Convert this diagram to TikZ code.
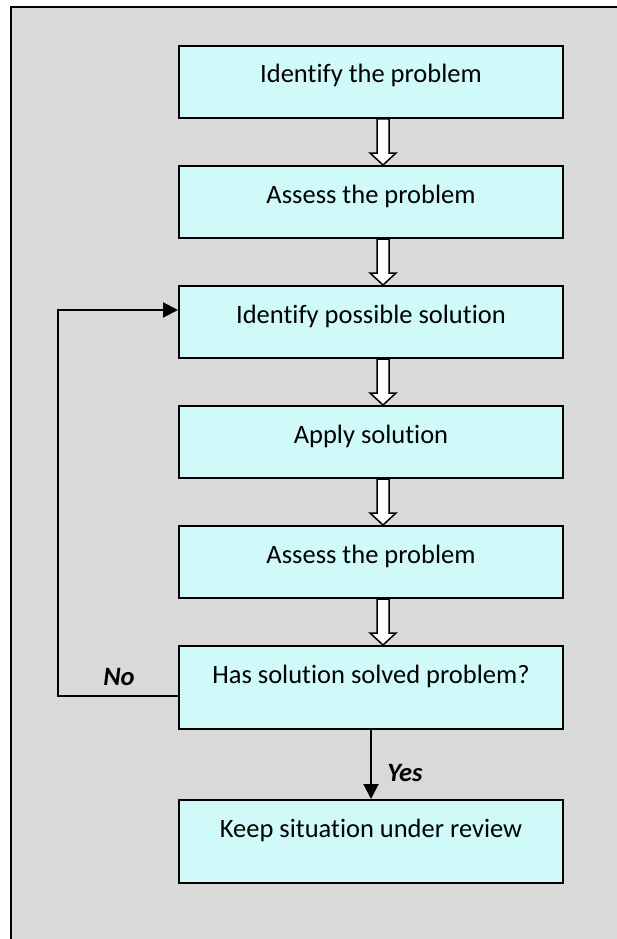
\documentclass[tikz,border=0pt]{standalone}
\usepackage{fontspec}
\setmainfont[Ligatures={NoCommon}]{Carlito}
\usetikzlibrary{calc,arrows.meta}
\definecolor{panelgray}{RGB}{217,217,217}
\definecolor{boxcyan}{RGB}{208,250,250}
\begin{document}
\begin{tikzpicture}[x=1pt,y=-1pt,
  step box/.style={draw,line width=2pt,fill=boxcyan,minimum width=384pt,
    inner sep=0pt,text height=37pt,text depth=35pt,anchor=north,
    font=\fontsize{26.5}{32}\selectfont},
  tall box/.style={step box,text depth=46pt},
  hollow arrow/.style={draw,line width=1.5pt,fill=white,line join=miter},
  flow line/.style={draw,line width=2pt,-{Triangle[length=15pt,width=15pt]}},
  answer/.style={font=\fontsize{26.5}{32}\selectfont\bfseries\itshape}]
  \useasboundingbox (0,0) rectangle (617,939);
  \draw[line width=2.5pt,fill=panelgray] (11,7) rectangle (640,960);

  \node[step box] (b1) at (371,45) {Identify the problem};
  \node[step box] (b2) at (371,165) {Assess the problem};
  \node[step box] (b3) at (371,285) {Identify possible solution};
  \node[step box] (b4) at (371,405) {Apply solution};
  \node[step box] (b5) at (371,525) {Assess the problem};
  \node[tall box] (b6) at (371,645) {Has solution solved problem?};
  \node[tall box] (b7) at (371,799) {Keep situation under review};

  % hollow arrows between the steps
  \foreach \a/\b in {b1/b2,b2/b3,b3/b4,b4/b5,b5/b6}
    \path[hollow arrow] ($(\a.south)+(6,0)$) -- ($(\b.north)+(6,-12)$)
      -- ($(\b.north)+(-1,-12)$) -- ($(\b.north)+(12,0)$)
      -- ($(\b.north)+(25,-12)$) -- ($(\b.north)+(18,-12)$)
      -- ($(\a.south)+(18,0)$) -- cycle;

  \coordinate (nostart) at ($(b6.north west)+(0,51)$);
  \coordinate (noback) at ($(b3.north west)+(0,25)$);
  \path[flow line] (nostart) -- ++(-120,0) |- (noback);
  \path[flow line] (b6.south) -- (b7.north);

  \node[answer] (no) at (119,677) {No};
  \node[answer] (yes) at (405,773) {Yes};
\end{tikzpicture}
\end{document}
